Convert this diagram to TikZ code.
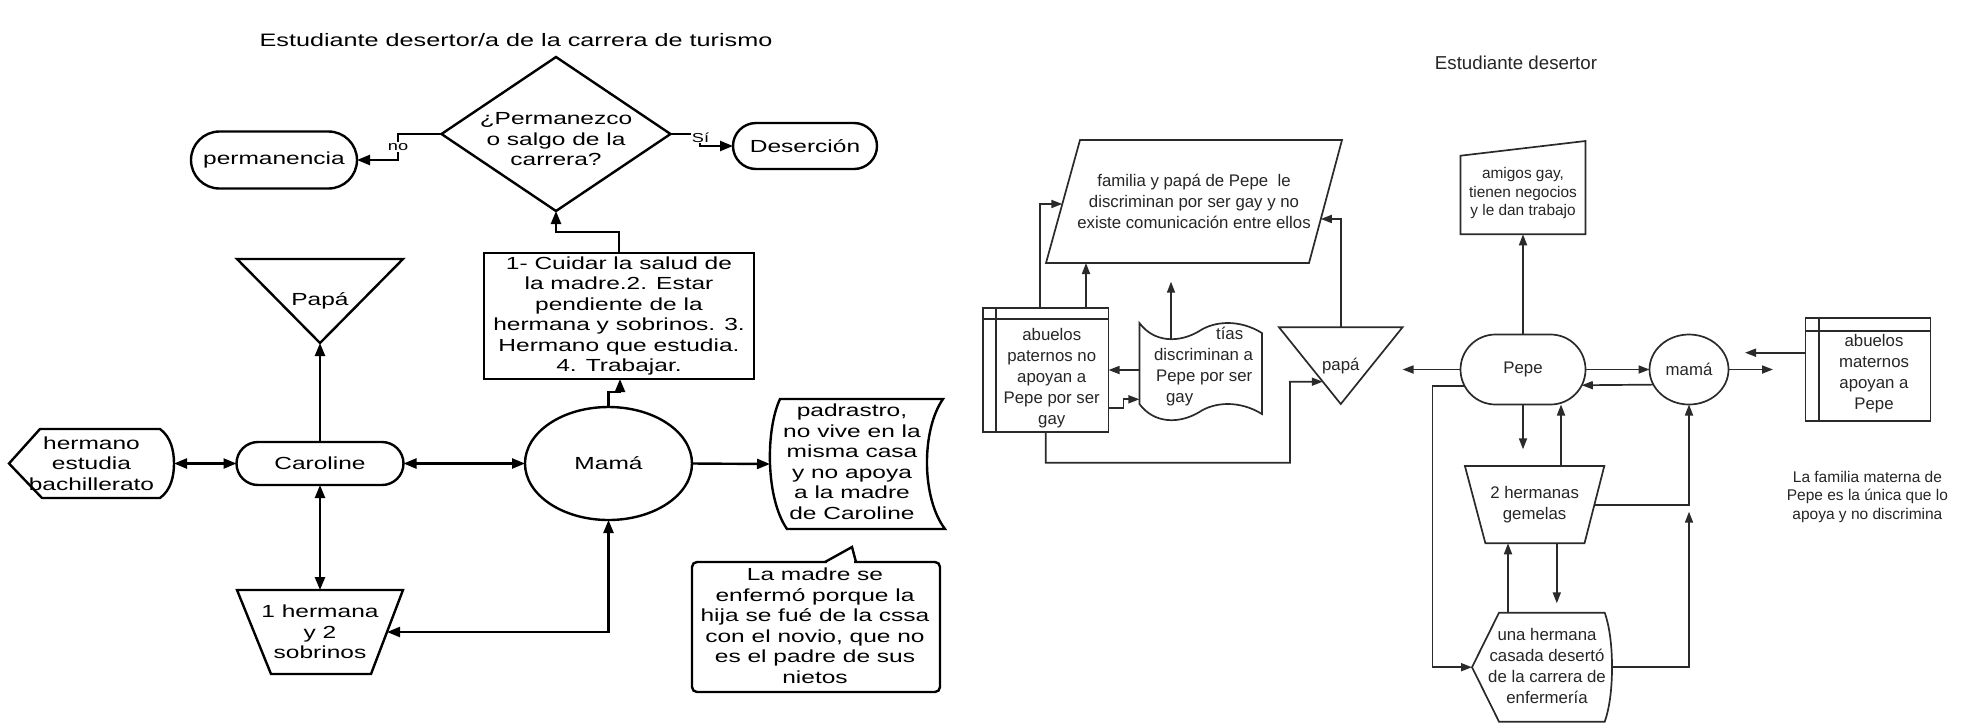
\documentclass[tikz,border=0pt]{standalone}
\usepackage{fontspec}
\setmainfont{Liberation Sans}
\newfontfamily\lfont[FakeStretch=1.4]{Liberation Sans}
\newfontfamily\rfont{Liberation Sans}
\usetikzlibrary{arrows.meta,calc,shapes.geometric,shapes.misc}
\definecolor{rline}{HTML}{2A2A2A}
\definecolor{rtext}{HTML}{262626}
\tikzset{
  L/.style={line width=2.4pt, draw=black},
  R/.style={line width=1.7pt, draw=rline},
  lt/.style={font=\lfont\fontsize{17.5}{20.5}\selectfont, text=black, align=center},
  rt/.style={font=\rfont\fontsize{16.8}{21}\selectfont, text=rtext, align=center},
  shp/.style={rectangle, inner sep=0pt, outer sep=0pt},
  sz/.style 2 args={minimum width=#1pt, minimum height=#2pt, inner sep=0pt, outer sep=0pt},
  la/.style={L, -{Triangle[length=13pt,width=10pt]}},
  lb/.style={L, {Triangle[length=13pt,width=10pt]}-{Triangle[length=13pt,width=10pt]}},
  ra/.style={R, -{Triangle[length=11pt,width=8pt]}},
  lbl/.style={fill=white, inner sep=1pt, font=\lfont\fontsize{13}{15}\selectfont, text=black}
}
\begin{document}
\begin{tikzpicture}[x=1pt,y=-1pt]
\fill[white] (0,0) rectangle (1965,724);
\useasboundingbox (0,0) rectangle (1965,724);

% ================= LEFT DIAGRAM =================
\node[lt, font=\lfont\fontsize{18}{21}\selectfont] (t1) at (516,40) {Estudiante desertor/a de la carrera de turismo};

\node[shp, sz={229}{154}, label={[lt,yshift=-5.5pt]center:{¿Permanezco\\o salgo de la\\carrera?}}] (dec) at (556,134) {};
\draw[L] (dec.north) -- (dec.east) -- (dec.south) -- (dec.west) -- cycle;

\node[L, rounded rectangle, sz={166}{57}, lt] (perm) at (274,160) {permanencia};
\node[L, rounded rectangle, sz={144}{46}, lt] (des) at (805,146) {Deserción};

\node[L, rectangle, sz={270}{126}, lt] (box1) at (619,316) {1- Cuidar la salud de\\la madre.2. Estar\\pendiente de la\\hermana y sobrinos. 3.\\Hermano que estudia.\\4. Trabajar.};

\node[shp, sz={166}{84}, lt] (papa1) at (320,301) {Papá};
\draw[L] (papa1.north west) -- (papa1.north east) -- (papa1.south) -- cycle;

\node[L, rounded rectangle, sz={167}{43}, lt] (car) at (320,463.5) {Caroline};

\node[shp, sz={165}{69}, lt] (herm) at (91.5,463.5) {hermano\\estudia\\bachillerato};
\begin{scope}[shift={(herm.north west)}]
\draw[L] (0,34.5) -- (31,0) -- (151,0) .. controls (162,8) and (165,22) .. (165,34.5)
  .. controls (165,47) and (162,61) .. (151,69) -- (33,69) -- cycle;
\end{scope}

\node[L, ellipse, sz={167}{113}, lt] (mama1) at (608.5,463.5) {Mamá};

\node[shp, sz={175}{130}, label={[lt,xshift=-5.5pt,yshift=2.5pt]center:{padrastro,\\no vive en la\\misma casa\\y no apoya\\a la madre\\de Caroline}}] (padr) at (857.5,464) {};
\begin{scope}[shift={(padr.north west)}]
\draw[L] (10,0) -- (173,0) .. controls (151.3,31) and (151.3,99) .. (175,130) -- (17,130)
  .. controls (-4.5,99) and (-4.5,31) .. cycle;
\end{scope}

\node[shp, sz={248}{130}, label={[lt,xshift=-1pt,yshift=1.5pt]center:{La madre se\\enfermó porque la\\hija se fué de la cssa\\con el novio, que no\\es el padre de sus\\nietos}}] (call) at (816,627) {};
\begin{scope}[shift={(call.north west)}]
\draw[L, rounded corners=5pt] (0,0) rectangle (248,130);
\draw[white, line width=3.2pt] (135,0) -- (162,0);
\draw[L, line join=miter] (133,0) -- (160,-15) -- (164,0);
\end{scope}

\node[shp, sz={166}{84}, lt] (trap1) at (320,632) {1 hermana\\y 2\\sobrinos};
\draw[L] (trap1.north west) -- (trap1.north east) -- ($(trap1.south east)+(-32,0)$) -- ($(trap1.south west)+(34,0)$) -- cycle;

% left connectors
\coordinate (cno) at (398,160);
\draw[la] (dec.west) -| (cno) -- (perm.east);
\node[lbl] (lno) at (398,147) {no};
\coordinate (csi) at (700,140);
\draw[la] (dec.east) -| (csi) |- (des.west);
\node[lbl] (lsi) at (700.5,137.5) {Sí};
\coordinate (c2) at (556,232);
\draw[la] (box1.north) |- (c2) -- (dec.south);
\coordinate (c3) at (620,392);
\draw[la] (mama1.north) |- (c3) -- (box1.south -| c3);
\draw[la] (mama1.east) -- (padr.west);
\draw[la] (car.north) -- (papa1.south);
\draw[lb] (herm.east) -- (car.west);
\draw[lb] (mama1.west) -- (car.east);
\draw[lb] (car.south) -- (trap1.north);
\draw[lb] ([xshift=-16pt]trap1.east) -| (mama1.south);

% ================= RIGHT DIAGRAM =================
\node[rt, font=\rfont\fontsize{18.7}{22}\selectfont] (t2) at (1516,63) {Estudiante desertor};

\node[shp, sz={296}{123}, rt] (fam) at (1194,201.5) {familia y papá de Pepe\ \ le\\discriminan por ser gay y no\\existe comunicación entre ellos};
\coordinate (famTL) at ($(fam.north west)+(34,0)$);
\coordinate (famBR) at ($(fam.south east)+(-33,0)$);
\draw[R] (famTL) -- (fam.north east) -- (famBR) -- (fam.south west) -- cycle;

\node[shp, sz={125.5}{124}, label={[rt,xshift=6pt,yshift=-8pt]center:{abuelos\\paternos no\\apoyan a\\Pepe por ser\\gay}}] (abp) at (1045.75,369.7) {};
\draw[R] (abp.north west) rectangle (abp.south east);
\draw[R] ($(abp.north west)+(13,0)$) -- ($(abp.south west)+(13,0)$);
\draw[R] ($(abp.north west)+(0,11.6)$) -- ($(abp.north east)+(0,11.6)$);

\node[shp, sz={122.5}{92}, label={[rt,align=left,anchor=west,xshift=11.2pt,yshift=2pt]west:{\hspace*{62pt}tías\\discriminan a\\\hspace*{2pt}Pepe por ser\\\hspace*{12pt}gay}}] (tias) at (1200.65,369) {};
\begin{scope}[shift={(tias.north west)}]
\draw[R] (0,0) .. controls (15,20) and (40,20) .. (60,8) .. controls (75,-2) and (100,-4) .. (122.5,10)
  -- (122.5,91) .. controls (100,77) and (75,79) .. (60,89) .. controls (40,101) and (15,101) .. (0,81) -- cycle;
\coordinate (tiastop) at (31.6,15.5);
\end{scope}

\node[shp, sz={123.5}{76.7}, rt] (papa2) at (1340.75,365.65) {papá};
\draw[R] (papa2.north west) -- (papa2.north east) -- (papa2.south) -- cycle;

\node[R, rounded rectangle, sz={125}{70}, rt] (pepe) at (1523,369.5) {Pepe};
\node[R, ellipse, sz={79}{70}, rt] (mama2) at (1689,369.5) {mamá};

\node[shp, sz={125}{93.3}, label={[rt,font=\rfont\fontsize{15.4}{18.3}\selectfont,yshift=-5.6pt]center:{amigos gay,\\tienen negocios\\y le dan trabajo}}] (amigos) at (1523,187.65) {};
\begin{scope}[shift={(amigos.north west)}]
\draw[R] (0,14.7) -- (125,0) -- (125,93.3) -- (0,93.3) -- cycle;
\end{scope}

\node[shp, sz={125}{102.7}, label={[rt,xshift=6pt,yshift=-4pt]center:{abuelos\\maternos\\apoyan a\\Pepe}}] (abm) at (1868,369.65) {};
\draw[R] (abm.north west) rectangle (abm.south east);
\draw[R] ($(abm.north west)+(13.3,0)$) -- ($(abm.south west)+(13.3,0)$);
\draw[R] ($(abm.north west)+(0,12.4)$) -- ($(abm.north east)+(0,12.4)$);

\node[shp, sz={139.4}{77.3}, rt] (herm2) at (1534.6,504.65) {2 hermanas\\gemelas};
\draw[R] (herm2.north west) -- (herm2.north east) -- ($(herm2.south east)+(-19.8,0)$) -- ($(herm2.south west)+(20.5,0)$) -- cycle;

\node[shp, sz={140}{109}, label={[rt,xshift=5pt,yshift=1.4pt]center:{una hermana\\casada desertó\\de la carrera de\\enfermería}}] (una) at (1542,667.2) {};
\begin{scope}[shift={(una.north west)}]
\draw[R] (0,54.5) -- (27,0) -- (132.7,0) .. controls (138,15) and (140,35) .. (140,54.5)
  .. controls (140,74) and (138,94) .. (132.7,109) -- (27,109) -- cycle;
\end{scope}

\node[rt, font=\rfont\fontsize{15.5}{18.3}\selectfont] (note2) at (1867.4,496.7) {La familia materna de\\Pepe es la única que lo\\apoya y no discrimina};

% right connectors
\coordinate (r1) at (1040,205);
\draw[ra] (abp.north -| r1) |- ($(famTL)!0.52!(fam.south west)$);
\coordinate (r2) at (1086,264);
\draw[ra] (abp.north -| r2) -- (fam.south -| r2);
\coordinate (r3) at (1120,370);
\draw[ra] (tias.west |- r3) -- (abp.east |- r3);
\coordinate (r4) at (1123.6,408.3);
\coordinate (r5) at (1123.6,399.3);
\draw[ra] (abp.east |- r4) -- (r4) -- (r5) -- (tias.west |- r5);
\coordinate (r6) at (1171,281.7);
\draw[ra] (tiastop) -- (r6);
\draw[ra] (papa2.north) |- ($(fam.north east)!0.642!(famBR)$);
\coordinate (r8) at (1290,462.7);
\coordinate (r9) at (1290,381.7);
\draw[ra] (abp.south) |- (r8) -- (r9) -- ($(papa2.north west)!0.709!(papa2.south)$);
\draw[ra] (pepe.west) -- (pepe.west -| papa2.east);
\draw[ra] (pepe.north) -- (amigos.south);
\draw[ra] (pepe.east) -- (mama2.west);
\draw[ra] (mama2.203) -- (pepe.-15);
\coordinate (r10) at (1773,369.5);
\draw[ra] (mama2.east) -- (r10);
\coordinate (r11) at (1745,352.7);
\draw[ra] (abm.west |- r11) -- (r11);
\coordinate (r12) at (1432.4,500);
\draw[ra] (pepe.196) -| (r12) |- (una.west);
\coordinate (r13) at (1523,449.3);
\draw[ra] (pepe.south) -- (r13);
\coordinate (r14) at (1561,420);
\draw[ra] (herm2.north -| r14) -- (pepe.south -| r14);
\draw[ra] ([xshift=-9.8pt]herm2.east) -| (mama2.south);
\coordinate (r15) at (1689,511.7);
\draw[ra] (una.east) -| (r15);
\coordinate (r16) at (1508,580);
\draw[ra] (una.north -| r16) -- (herm2.south -| r16);
\coordinate (r17) at (1556.8,603.3);
\draw[ra] (herm2.south -| r17) -- (r17);
\end{tikzpicture}
\end{document}
